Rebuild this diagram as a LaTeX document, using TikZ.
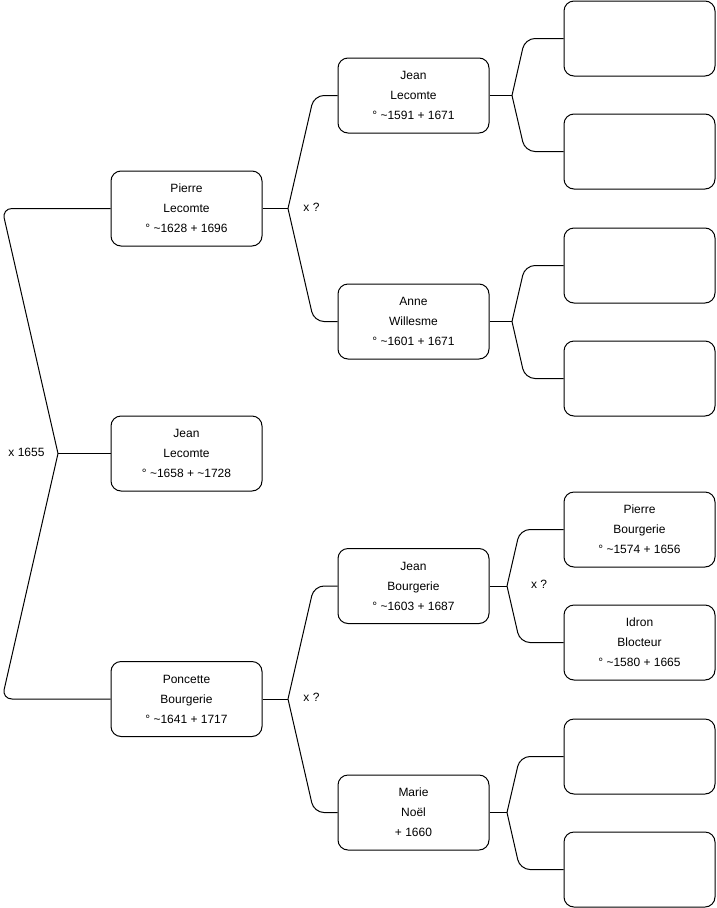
\documentclass[tikz,border=0pt]{standalone}
\usepackage{fontspec}
\setmainfont{Liberation Sans}
\begin{document}
\begin{tikzpicture}[x=1pt,y=-1pt,
  pers/.style={draw,rounded corners=10pt,line width=1pt,minimum width=151pt,minimum height=75pt,align=center,font=\fontsize{12}{20}\selectfont},
  link/.style={draw,line width=1pt,rounded corners=10pt},
  lbl/.style={font=\fontsize{12}{14}\selectfont}]
\useasboundingbox (0,0) rectangle (716,908);

\node[pers] (s1) at (186.5,453.5) {Jean\\Lecomte\\° \textasciitilde1658 + \textasciitilde1728};

\node[pers] (s2) at (186.5,208.5) {Pierre\\Lecomte\\° \textasciitilde1628 + 1696};
\node[pers] (s3) at (186.5,699) {Poncette\\Bourgerie\\° \textasciitilde1641 + 1717};

\node[pers] (s4) at (413.5,95.5) {Jean\\Lecomte\\° \textasciitilde1591 + 1671};
\node[pers] (s5) at (413.5,321.5) {Anne\\Willesme\\° \textasciitilde1601 + 1671};
\node[pers] (s6) at (413.5,586) {Jean\\Bourgerie\\° \textasciitilde1603 + 1687};
\node[pers] (s7) at (413.5,812.5) {Marie\\Noël\\+ 1660};

\node[pers] (s8) at (639.5,38.5) {};
\node[pers] (s9) at (639.5,151.5) {};
\node[pers] (s10) at (639.5,265.5) {};
\node[pers] (s11) at (639.5,378.5) {};
\node[pers] (s12) at (639.5,529.5) {Pierre\\Bourgerie\\° \textasciitilde1574 + 1656};
\node[pers] (s13) at (639.5,642.5) {Idron\\Blocteur\\° \textasciitilde1580 + 1665};
\node[pers] (s14) at (639.5,756.5) {};
\node[pers] (s15) at (639.5,869.5) {};

% junctions
\coordinate (j1) at (58,453.5);
\coordinate (j2) at (288,208.5);
\coordinate (j3) at (288,699);
\coordinate (j4) at (512,95.5);
\coordinate (j5) at (512,321.5);
\coordinate (j6) at (507,586);
\coordinate (j7) at (507,812.5);

\path[link] (s1.west) -- (j1);
\path[link] (j1) -- ++(-56,-245) -- (s2.west);
\path[link] (j1) -- ++(-56,245.5) -- (s3.west);

\path[link] (s2.east) -- (j2);
\path[link] (j2) -- ++(26,-113) -- (s4.west);
\path[link] (j2) -- ++(26,113) -- (s5.west);
\path[link] (s3.east) -- (j3);
\path[link] (j3) -- ++(26,-113) -- (s6.west);
\path[link] (j3) -- ++(26,113.5) -- (s7.west);

\path[link] (s4.east) -- (j4);
\path[link] (j4) -- ++(13,-57) -- (s8.west);
\path[link] (j4) -- ++(13,56) -- (s9.west);
\path[link] (s5.east) -- (j5);
\path[link] (j5) -- ++(13,-56) -- (s10.west);
\path[link] (j5) -- ++(13,57) -- (s11.west);
\path[link] (s6.east) -- (j6);
\path[link] (j6) -- ++(13,-56.5) -- (s12.west);
\path[link] (j6) -- ++(13,56.5) -- (s13.west);
\path[link] (s7.east) -- (j7);
\path[link] (j7) -- ++(13,-56) -- (s14.west);
\path[link] (j7) -- ++(13,57) -- (s15.west);

\node[lbl] (m1) at (26.5,452) {x 1655};
\node[lbl] (m2) at (311.5,207) {x ?};
\node[lbl] (m3) at (311.5,697) {x ?};
\node[lbl] (m6) at (539,584) {x ?};
\end{tikzpicture}
\end{document}
